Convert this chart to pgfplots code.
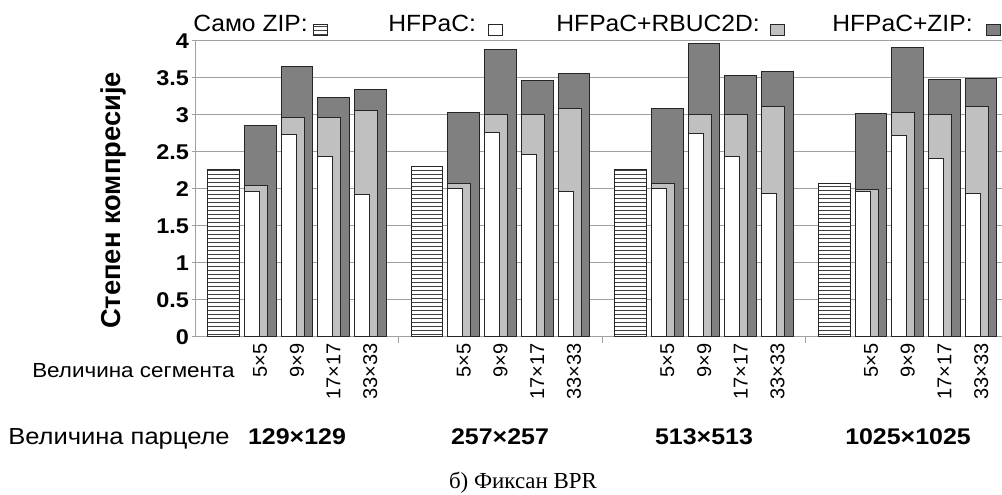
\documentclass[border=0pt]{standalone}
\usepackage{fontspec}
\setmainfont{Liberation Sans}
\newfontfamily\lsans[FakeStretch=1.1]{Liberation Sans}
\newfontfamily\lsansl[FakeStretch=1.05]{Liberation Sans}
\newfontfamily\lserif{Liberation Serif}
\usepackage{pgfplots}
\usepackage{pgfplotstable}
\pgfplotsset{compat=1.18}
\usetikzlibrary{patterns}

\pgfplotstableread{
x y
0 2.27
5.548 2.31
11.096 2.27
16.644 2.08
}\zipdata

\pgfplotstableread{
x y
1 1.97
2 2.74
3 2.44
4 1.93
6.548 2.00
7.548 2.77
8.548 2.47
9.548 1.96
12.096 2.00
13.096 2.75
14.096 2.44
15.096 1.94
17.644 1.97
18.644 2.72
19.644 2.41
20.644 1.94
}\hfpac

\pgfplotstableread{
x y
1 2.05
2 2.96
3 2.96
4 3.06
6.548 2.07
7.548 3.00
8.548 3.00
9.548 3.09
12.096 2.07
13.096 3.01
14.096 3.01
15.096 3.11
17.644 1.99
18.644 3.03
19.644 3.01
20.644 3.11
}\rbuc

\pgfplotstableread{
x y
1 2.86
2 3.65
3 3.24
4 3.34
6.548 3.03
7.548 3.89
8.548 3.47
9.548 3.56
12.096 3.09
13.096 3.97
14.096 3.54
15.096 3.59
17.644 3.02
18.644 3.91
19.644 3.48
20.644 3.49
}\hzip

\definecolor{darkbar}{HTML}{808080}
\definecolor{lightbar}{HTML}{C0C0C0}
\definecolor{gridc}{HTML}{A0A0A0}

\begin{document}
\begin{tikzpicture}[x=0.75pt,y=0.75pt]
\useasboundingbox (0,0) rectangle (1002,495);
\begin{axis}[
  at={(146.25pt,118.5pt)}, anchor=south west,
  scale only axis, width=605.25pt, height=222pt,
  xmin=-0.777, xmax=21.213, ymin=0, ymax=4,
  axis lines=left, axis line style={-, draw=gridc, line width=0.75pt},
  clip=false,
  ymajorgrids, grid style={gridc, line width=0.75pt},
  ytick={0,0.5,1,1.5,2,2.5,3,3.5,4},
  yticklabels={0,0.5,1,1.5,2,2.5,3,3.5,4},
  yticklabel style={font=\lsans\bfseries\fontsize{16}{16}\selectfont, anchor=east, xshift=1.5pt},
  ytick style={draw=gridc, line width=0.75pt},
  tick align=outside, major tick length=2.5pt,
  xtick={1,2,3,4,6.548,7.548,8.548,9.548,12.096,13.096,14.096,15.096,17.644,18.644,19.644,20.644},
  xticklabels={5×5,9×9,17×17,33×33,5×5,9×9,17×17,33×33,5×5,9×9,17×17,33×33,5×5,9×9,17×17,33×33},
  xticklabel style={rotate=90, anchor=east, font=\fontsize{15}{15}\selectfont, inner sep=2pt},
  xtick style={draw=none},
]
\addplot[ybar, bar width=0.861, bar shift=0, fill=white, draw=black!85, line width=0.75pt,
  postaction={pattern=horizontal lines, pattern color=black!75}] table[x=x,y=y] {\zipdata};
\addplot[ybar, bar width=0.864, bar shift=0, fill=darkbar, draw=black!85, line width=0.75pt] table[x=x,y=y] {\hzip};
\addplot[ybar, bar width=0.627, bar shift=-0.1185, fill=lightbar, draw=black!85, line width=0.75pt] table[x=x,y=y] {\rbuc};
\addplot[ybar, bar width=0.409, bar shift=-0.2275, fill=white, draw=black!85, line width=0.75pt] table[x=x,y=y] {\hfpac};
\draw[gridc, line width=0.75pt] (axis cs:4.774,0) -- ([yshift=-4.5pt]axis cs:4.774,0);
\draw[gridc, line width=0.75pt] (axis cs:10.322,0) -- ([yshift=-4.5pt]axis cs:10.322,0);
\draw[gridc, line width=0.75pt] (axis cs:15.87,0) -- ([yshift=-4.5pt]axis cs:15.87,0);
\end{axis}
% y label
\node[rotate=90, font=\bfseries\fontsize{20.5}{21}\selectfont] at (113,294.5) {Степен компресије};
% legend
\begin{scope}[font=\lsansl\fontsize{17.6}{18}\selectfont]
\node[anchor=base west, inner sep=0] at (193,463) {Само ZIP:};
\draw[black!85, line width=0.75pt, fill=white] (313,459) rectangle (327,470);
\fill[pattern=horizontal lines, pattern color=black!75] (313,459) rectangle (327,470);
\draw[black!85, line width=0.75pt] (313,459) rectangle (327,470);
\node[anchor=base west, inner sep=0] at (388,463) {HFPaC:};
\draw[black!85, line width=0.75pt, fill=white] (488,459) rectangle (502,470);
\node[anchor=base east, inner sep=0] at (760,463) {HFPaC+RBUC2D:};
\draw[black!85, line width=0.75pt, fill=lightbar] (770,459) rectangle (784,470);
\node[anchor=base west, inner sep=0] at (832,463) {HFPaC+ZIP:};
\draw[black!85, line width=0.75pt, fill=darkbar] (986,459) rectangle (1000,470);
\end{scope}
% bottom labels
\node[anchor=base west, inner sep=0, font=\lsans\fontsize{15.3}{16}\selectfont] at (32,117) {Величина сегмента};
\node[anchor=base west, inner sep=0, font=\lsans\fontsize{17.4}{18}\selectfont] at (8,50) {Величина парцеле};
\begin{scope}[font=\lsans\bfseries\fontsize{17}{17}\selectfont]
\node[anchor=base, inner sep=0] at (297,50) {129×129};
\node[anchor=base, inner sep=0] at (500,50) {257×257};
\node[anchor=base, inner sep=0] at (704,50) {513×513};
\node[anchor=base, inner sep=0] at (908,50) {1025×1025};
\end{scope}
\node[anchor=base, inner sep=0, font=\lserif\fontsize{17.2}{18}\selectfont] at (523,6) {б) Фиксан BPR};
\end{tikzpicture}
\end{document}
